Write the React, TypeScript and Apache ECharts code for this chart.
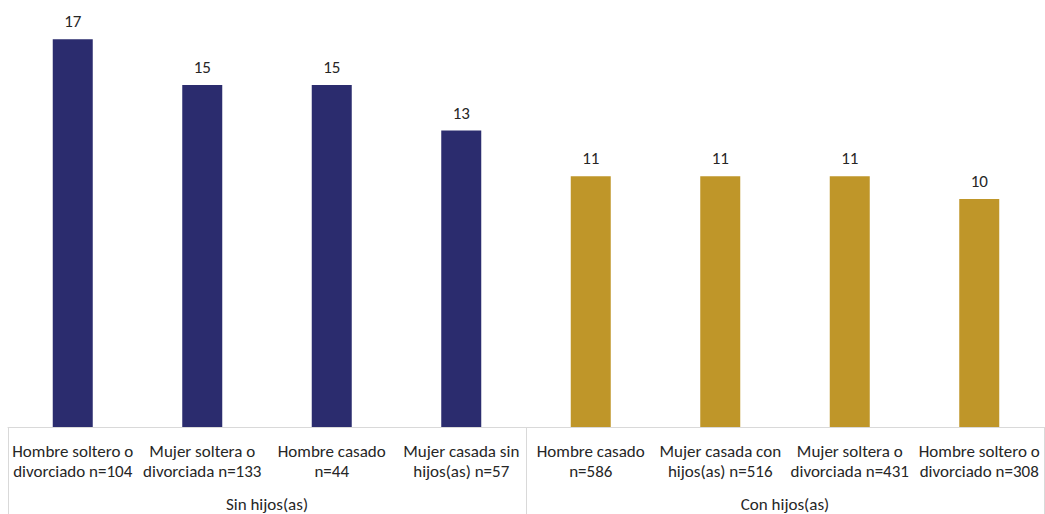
import React, { useEffect, useRef } from "react";
import * as echarts from "echarts";

const categories = [
  "Hombre soltero o\ndivorciado n=104",
  "Mujer soltera o\ndivorciada n=133",
  "Hombre casado\nn=44",
  "Mujer casada sin\nhijos(as) n=57",
  "Hombre casado\nn=586",
  "Mujer casada con\nhijos(as) n=516",
  "Mujer soltera o\ndivorciada n=431",
  "Hombre soltero o\ndivorciado n=308",
];
const groups = ["Sin hijos(as)", "Con hijos(as)"];
const groupOfItem = [0, 0, 0, 0, 1, 1, 1, 1];
const values = [17, 15, 15, 13, 11, 11, 11, 10];
const groupColors = ["#2B2C6E", "#BF9629"];

const FONT = "Carlito, Lato, 'Noto Sans', sans-serif";

export default function App() {
  const ref = useRef<HTMLDivElement>(null);
  useEffect(() => {
    if (!ref.current) return;
    const chart = echarts.init(ref.current, null, { renderer: "svg" });
    chart.setOption({
      animation: false,
      grid: { left: 8, right: 1, top: 16.5, bottom: 87, containLabel: false },
      xAxis: [
        {
          type: "category",
          data: categories,
          position: "bottom",
          axisLine: { show: true, lineStyle: { color: "#D9D9D9", width: 1 } },
          axisTick: { show: false },
          axisLabel: {
            interval: 0,
            color: "#262626",
            fontFamily: FONT,
            fontSize: 17,
            lineHeight: 20,
            margin: 14,
          },
        },
        {
          type: "category",
          data: groups,
          position: "bottom",
          axisLine: { show: false },
          axisTick: {
            show: true,
            length: 87,
            inside: false,
            lineStyle: { color: "#D9D9D9", width: 1 },
          },
          axisLabel: {
            interval: 0,
            color: "#262626",
            fontFamily: FONT,
            fontSize: 17,
            margin: 69,
          },
        },
      ],
      yAxis: {
        type: "value",
        min: 0,
        max: 18,
        show: false,
        splitLine: { show: false },
      },
      series: [
        {
          type: "bar",
          xAxisIndex: 0,
          barWidth: 40,
          data: values.map((v, i) => ({
            value: v,
            itemStyle: { color: groupColors[groupOfItem[i]] },
          })),
          label: {
            show: true,
            position: "top",
            distance: 9,
            color: "#262626",
            fontFamily: FONT,
            fontSize: 17,
          },
        },
      ],
    });
    return () => chart.dispose();
  }, []);
  return (
    <div
      ref={ref}
      style={{ position: "fixed", left: 0, top: 0, width: 1045, height: 514, background: "#fff" }}
    />
  );
}
